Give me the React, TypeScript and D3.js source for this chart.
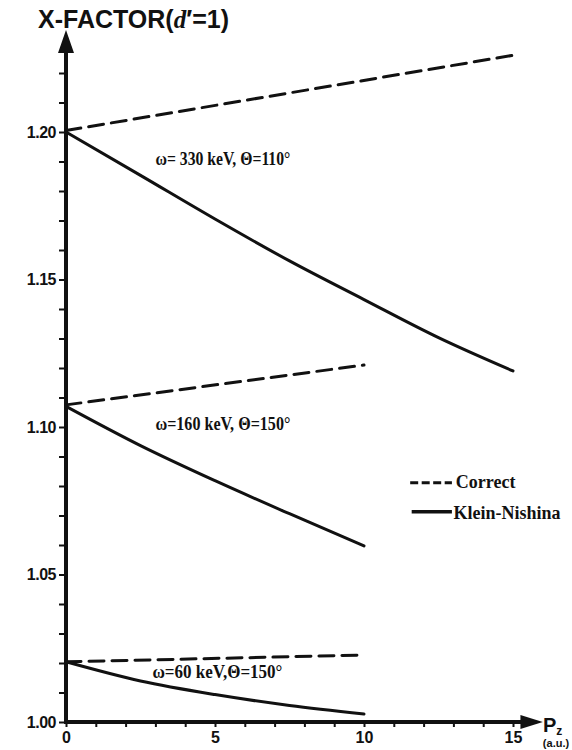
import React, { useEffect, useRef } from 'react';
import * as d3 from 'd3';

// P_z (a.u.) sample positions
const pzLong = [0, 2.5, 5, 7.5, 10, 12.5, 15];
const pzShort = [0, 2.5, 5, 7.5, 10];
const pzEndsLong = [0, 15];
const pzEndsShort = [0, 10];

// omega = 330 keV, theta = 110 deg
const kn330 = [1.2, 1.1853, 1.1705, 1.1563, 1.1432, 1.1303, 1.119];
const correct330 = [1.2005, 1.226];
// omega = 160 keV, theta = 150 deg
const kn160 = [1.107, 1.0937, 1.0818, 1.0706, 1.0597];
const correct160 = [1.1075, 1.121];
// omega = 60 keV, theta = 150 deg
const kn60 = [1.0204, 1.0139, 1.0093, 1.0056, 1.0027];
const correct60 = [1.0204, 1.0227];

const yTickLabels = ['1.00', '1.05', '1.10', '1.15', '1.20'];
const xTickLabels = ['0', '5', '10', '15'];
const curveLabels = ['ω= 330 keV, Θ=110°', 'ω=160 keV, Θ=150°', 'ω=60 keV,Θ=150°'];
const legendLabels = ['Correct', 'Klein-Nishina'];

const INK = '#111';
const SERIF = '"Liberation Serif", "Times New Roman", serif';
const SANS = '"Liberation Sans", Arial, sans-serif';

export default function App() {
  const ref = useRef<SVGSVGElement>(null);

  useEffect(() => {
    const svg = d3.select(ref.current);
    svg.selectAll('*').remove();

    const x = d3.scaleLinear().domain([0, 15]).range([66, 513]);
    const y = d3.scaleLinear().domain([1.0, 1.2]).range([722, 132]);

    const series = [
      { xs: pzEndsLong, ys: correct330, dashed: true },
      { xs: pzLong, ys: kn330, dashed: false },
      { xs: pzEndsShort, ys: correct160, dashed: true },
      { xs: pzShort, ys: kn160, dashed: false },
      { xs: pzEndsShort, ys: correct60, dashed: true },
      { xs: pzShort, ys: kn60, dashed: false },
    ];

    const line = d3.line<[number, number]>()
      .x(d => x(d[0]))
      .y(d => y(d[1]))
      .curve(d3.curveMonotoneX);

    // axes lines + arrows
    svg.append('line')
      .attr('x1', x(0)).attr('x2', x(0))
      .attr('y1', y(1.0) + 2).attr('y2', y(1.2268))
      .attr('stroke', INK).attr('stroke-width', 4);
    svg.append('path')
      .attr('d', `M${x(0)},${y(1.2346)}L${x(0) - 8},${y(1.2268)}L${x(0) + 8},${y(1.2268)}Z`)
      .attr('fill', INK);

    svg.append('line')
      .attr('x1', x(0) - 2).attr('x2', x(15.3))
      .attr('y1', y(1.0)).attr('y2', y(1.0))
      .attr('stroke', INK).attr('stroke-width', 4);
    svg.append('path')
      .attr('d', `M${x(16)},${y(1.0)}L${x(15.25)},${y(1.0) - 7}L${x(15.25)},${y(1.0) + 7}Z`)
      .attr('fill', INK);

    // y ticks every 0.01
    const yAxis = d3.axisLeft(y)
      .tickValues(d3.range(23).map(i => 1 + i * 0.01))
      .tickSize(7)
      .tickPadding(3)
      .tickFormat(d => {
        const s = d3.format('.2f')(d as number);
        return yTickLabels.includes(s) ? s : '';
      });
    const gy = svg.append('g').attr('transform', `translate(${x(0)},0)`).call(yAxis);
    gy.select('.domain').remove();
    gy.selectAll('.tick line').attr('stroke', INK).attr('stroke-width', 2);
    gy.selectAll('.tick text')
      .attr('fill', INK)
      .attr('font-family', SANS)
      .attr('font-weight', 'bold')
      .attr('font-size', 16)
      .attr('letter-spacing', -0.5);

    // x ticks every 1 unit
    const xAxis = d3.axisBottom(x)
      .tickValues(d3.range(16))
      .tickSize(5)
      .tickPadding(5)
      .tickFormat(d => (xTickLabels.includes(String(d)) ? String(d) : ''));
    const gx = svg.append('g').attr('transform', `translate(0,${y(1.0)})`).call(xAxis);
    gx.select('.domain').remove();
    gx.selectAll('.tick line').attr('stroke', INK).attr('stroke-width', 2);
    gx.selectAll('.tick text')
      .attr('fill', INK)
      .attr('font-family', SANS)
      .attr('font-weight', 'bold')
      .attr('font-size', 16);

    // curves
    svg.append('g')
      .selectAll('path')
      .data(series)
      .join('path')
      .attr('d', s => line(s.xs.map((v, i) => [v, s.ys[i]] as [number, number])))
      .attr('fill', 'none')
      .attr('stroke', INK)
      .attr('stroke-width', 3)
      .attr('stroke-linecap', 'round')
      .attr('stroke-dasharray', s => (s.dashed ? '15,8' : null));

    // curve labels
    const labelPos = [
      { pz: 3.0, v: 1.1888, w: 135 },
      { pz: 3.0, v: 1.099, w: 135 },
      { pz: 2.9, v: 1.0149, w: 130 },
    ];
    svg.append('g')
      .selectAll('text')
      .data(curveLabels)
      .join('text')
      .attr('x', (_, i) => x(labelPos[i].pz))
      .attr('y', (_, i) => y(labelPos[i].v))
      .attr('textLength', (_, i) => labelPos[i].w)
      .attr('lengthAdjust', 'spacingAndGlyphs')
      .attr('font-family', SERIF)
      .attr('font-weight', 'bold')
      .attr('font-size', 19)
      .attr('fill', INK)
      .text(d => d);

    // legend
    const lg = svg.append('g');
    lg.append('line')
      .attr('x1', x(11.55)).attr('x2', x(12.95))
      .attr('y1', y(1.0811)).attr('y2', y(1.0811))
      .attr('stroke', INK).attr('stroke-width', 3).attr('stroke-dasharray', '8,3.5');
    lg.append('line')
      .attr('x1', x(11.6)).attr('x2', x(12.95))
      .attr('y1', y(1.0713)).attr('y2', y(1.0713))
      .attr('stroke', INK).attr('stroke-width', 3.5);
    lg.selectAll('text')
      .data(legendLabels)
      .join('text')
      .attr('x', (_, i) => x(i === 0 ? 13.08 : 13.0))
      .attr('y', (_, i) => y(i === 0 ? 1.0793 : 1.0688))
      .attr('font-family', SERIF)
      .attr('font-weight', 'bold')
      .attr('font-size', 18)
      .attr('fill', INK)
      .text(d => d);

    // title
    const title = svg.append('text')
      .attr('x', 38).attr('y', 28)
      .attr('font-family', SANS)
      .attr('font-weight', 'bold')
      .attr('font-size', 25)
      .attr('fill', INK);
    title.append('tspan').text('X-FACTOR(');
    title.append('tspan').attr('font-style', 'italic').attr('font-family', SERIF).text('d');
    title.append('tspan').text('\u2032=1)');

    // x axis name
    const pz = svg.append('text')
      .attr('x', 543).attr('y', 732)
      .attr('font-family', SANS)
      .attr('font-weight', 'bold')
      .attr('font-size', 20)
      .attr('fill', INK);
    pz.append('tspan').text('P');
    pz.append('tspan').attr('font-size', 12).attr('dy', 3).text('z');
    svg.append('text')
      .attr('x', 556).attr('y', 747)
      .attr('text-anchor', 'middle')
      .attr('font-family', SANS)
      .attr('font-weight', 'bold')
      .attr('font-size', 11)
      .attr('fill', INK)
      .text('(a.u.)');
  }, []);

  return (
    <svg
      ref={ref}
      width={572}
      height={750}
      style={{ position: 'absolute', left: 0, top: 0, background: '#fff' }}
    />
  );
}
